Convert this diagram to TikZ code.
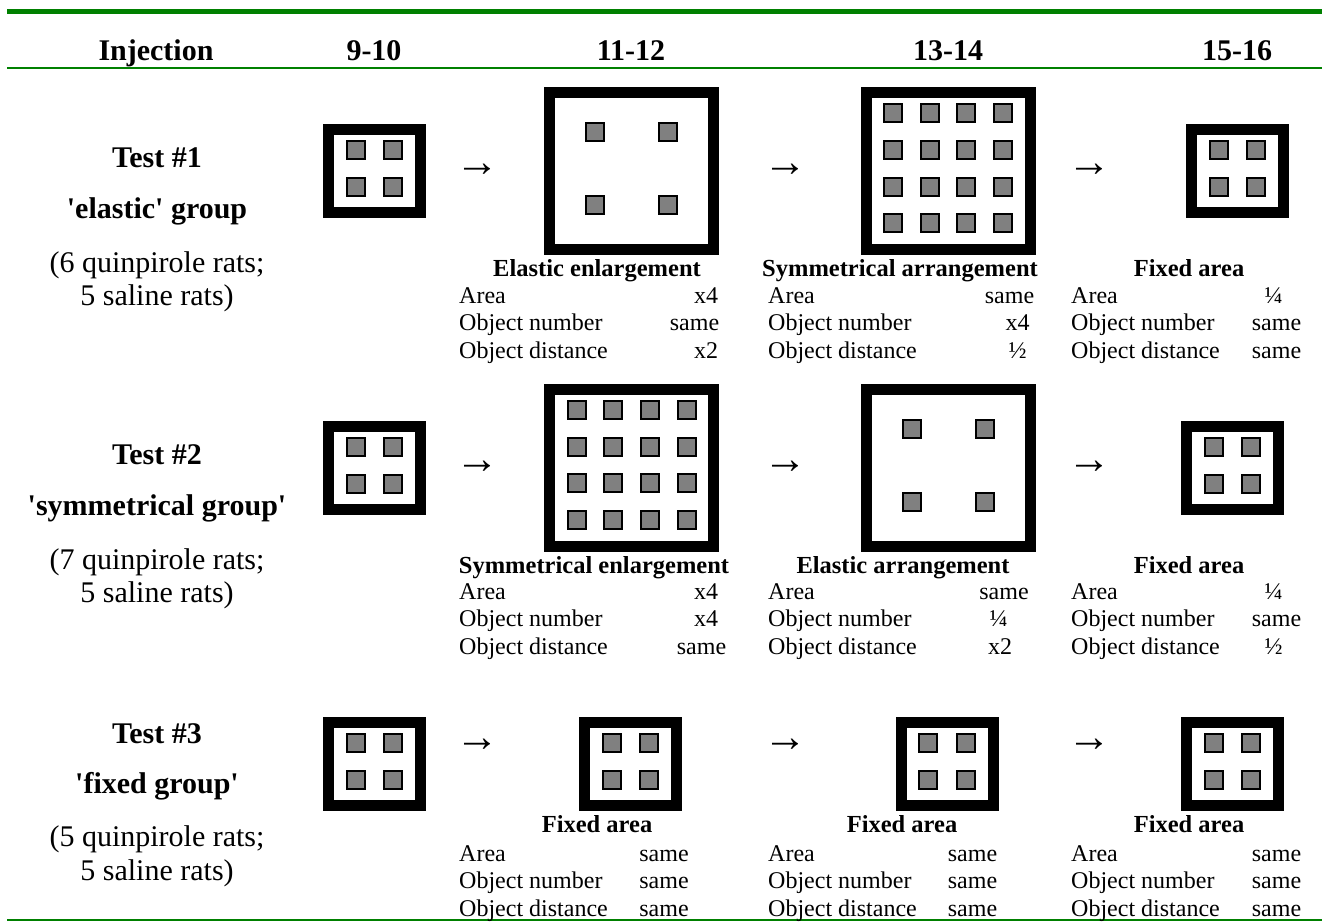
\documentclass[tikz,border=0pt]{standalone}
\usepackage{fontspec}
\setmainfont{Liberation Serif}
\definecolor{rulegreen}{RGB}{0,128,0}

\begin{document}
\begin{tikzpicture}[x=1pt,y=-1pt,
  cage/.style={draw,line width=11pt,fill=white,inner sep=0pt},
  small cage/.style={cage,minimum width=92pt,minimum height=83pt},
  big cage/.style={cage,minimum width=164pt,minimum height=157pt},
  obj/.style={draw,line width=2pt,fill=gray,inner sep=0pt,minimum size=18pt},
  txt/.style={anchor=base,inner sep=0pt},
  colhead/.style={txt,font=\fontsize{30}{32}\selectfont\bfseries},
  grp/.style={txt,font=\fontsize{30}{33}\selectfont\bfseries},
  rats/.style={txt,font=\fontsize{30}{33}\selectfont},
  capt/.style={txt,font=\fontsize{24.5}{26}\selectfont\bfseries},
  cell/.style={txt,font=\fontsize{24}{26}\selectfont},
  lab/.style={cell,anchor=base west},
  arr/.style={inner sep=0pt,font=\fontsize{44}{44}\selectfont}]
  \useasboundingbox (0,0) rectangle (1322,923);

  % rules
  \draw[rulegreen,line width=5pt] (7,12) -- (1322,12);
  \draw[rulegreen,line width=2.5pt] (7,68) -- (1322,68);
  \draw[rulegreen,line width=2pt] (7,920) -- (1322,920);

  % column heads
  \node[colhead] (h0) at (156,61) {Injection};
  \node[colhead] (h1) at (374,61) {9-10};
  \node[colhead] (h2) at (631,61) {11-12};
  \node[colhead] (h3) at (948,61) {13-14};
  \node[colhead] (h4) at (1237,61) {15-16};

  % groups
  \node[grp] (t1) at (157,167) {Test \#1};
  \node[grp] (g1) at (157,218) {\textquotesingle elastic\textquotesingle{} group};
  \node[rats] (r1) at (157,272) {(6 quinpirole rats;};
  \node[rats] (s1) at (157,305) {5 saline rats)};
  \node[grp] (t2) at (157,464) {Test \#2};
  \node[grp] (g2) at (157,515) {\textquotesingle symmetrical group\textquotesingle};
  \node[rats] (r2) at (157,569) {(7 quinpirole rats;};
  \node[rats] (s2) at (157,602) {5 saline rats)};
  \node[grp] (t3) at (157,743) {Test \#3};
  \node[grp] (g3) at (157,793) {\textquotesingle fixed group\textquotesingle};
  \node[rats] (r3) at (157,846) {(5 quinpirole rats;};
  \node[rats] (s3) at (157,880) {5 saline rats)};

  % cages
  \node[small cage] (a1) at (374.5,171) {};
  \node[big cage] (b1) at (631.5,171) {};
  \node[big cage] (c1) at (948,171) {};
  \node[small cage] (d1) at (1237.5,171) {};
  \node[small cage] (a2) at (374.5,467.5) {};
  \node[big cage] (b2) at (631.5,467.5) {};
  \node[big cage] (c2) at (948,467.5) {};
  \node[small cage] (d2) at (1232.5,467.5) {};
  \node[small cage] (a3) at (374.5,764) {};
  \node[small cage] (b3) at (630.5,764) {};
  \node[small cage] (c3) at (947,764) {};
  \node[small cage] (d3) at (1232.5,764) {};

  % objects
  \foreach \cg in {a1,d1,a2,d2,a3,b3,c3,d3}
    \foreach \dx [count=\i] in {-19,18.5}
      \foreach \dy [count=\j] in {-21,16}
        \node[obj] (\cg-\i\j) at ([shift={(\dx,\dy)}]\cg) {};
  \foreach \cg in {b1,c2}
    \foreach \dx [count=\i] in {-36.5,36.5}
      \foreach \dy [count=\j] in {-39,34}
        \node[obj] (\cg-\i\j) at ([shift={(\dx,\dy)}]\cg) {};
  \foreach \cg in {c1,b2}
    \foreach \dx [count=\i] in {-55,-18.3,18.3,55}
      \foreach \dy [count=\j] in {-57.5,-21,15.5,52}
        \node[obj] (\cg-\i\j) at ([shift={(\dx,\dy)}]\cg) {};

  % arrows between sessions
  \foreach \y [count=\r] in {170,467,745}
    \foreach \x [count=\k] in {477.5,785.5,1089.5}
      \node[arr] (p\r\k) at (\x,\y) {→};

  % captions
  \node[capt] (k11) at (597,276) {Elastic enlargement};
  \node[capt] (k12) at (900,276) {Symmetrical arrangement};
  \node[capt] (k13) at (1189,276) {Fixed area};
  \node[capt] (k21) at (594,573) {Symmetrical enlargement};
  \node[capt] (k22) at (903,573) {Elastic arrangement};
  \node[capt] (k23) at (1189,573) {Fixed area};
  \node[capt] (k31) at (597,832) {Fixed area};
  \node[capt] (k32) at (902,832) {Fixed area};
  \node[capt] (k33) at (1189,832) {Fixed area};

  % tables
  \foreach \y [count=\r] in {303,599,861}
    \foreach \x [count=\k] in {459,768,1071}
      \foreach \t [count=\n] in {Area,Object number,Object distance}
        \node[lab] (l\r\k\n) at (\x,\y+27.7*\n-27.7) {\t};

  \node[cell] (v111) at (706,303) {x4};
  \node[cell] (v112) at (694.5,330.7) {same};
  \node[cell] (v113) at (706,358.4) {x2};
  \node[cell] (v121) at (1009.5,303) {same};
  \node[cell] (v122) at (1017.5,330.7) {x4};
  \node[cell] (v123) at (1017.5,358.4) {½};
  \node[cell] (v131) at (1273.5,303) {¼};
  \node[cell] (v132) at (1276.5,330.7) {same};
  \node[cell] (v133) at (1276.5,358.4) {same};

  \node[cell] (v211) at (706,599) {x4};
  \node[cell] (v212) at (706,626.7) {x4};
  \node[cell] (v213) at (701.5,654.4) {same};
  \node[cell] (v221) at (1004,599) {same};
  \node[cell] (v222) at (998.5,626.7) {¼};
  \node[cell] (v223) at (1000,654.4) {x2};
  \node[cell] (v231) at (1273.5,599) {¼};
  \node[cell] (v232) at (1276.5,626.7) {same};
  \node[cell] (v233) at (1273.5,654.4) {½};

  \foreach \x [count=\k] in {664,972.5,1276.5}
    \foreach \n in {1,2,3}
      \node[cell] (v3\k\n) at (\x,861+27.7*\n-27.7) {same};
\end{tikzpicture}
\end{document}
